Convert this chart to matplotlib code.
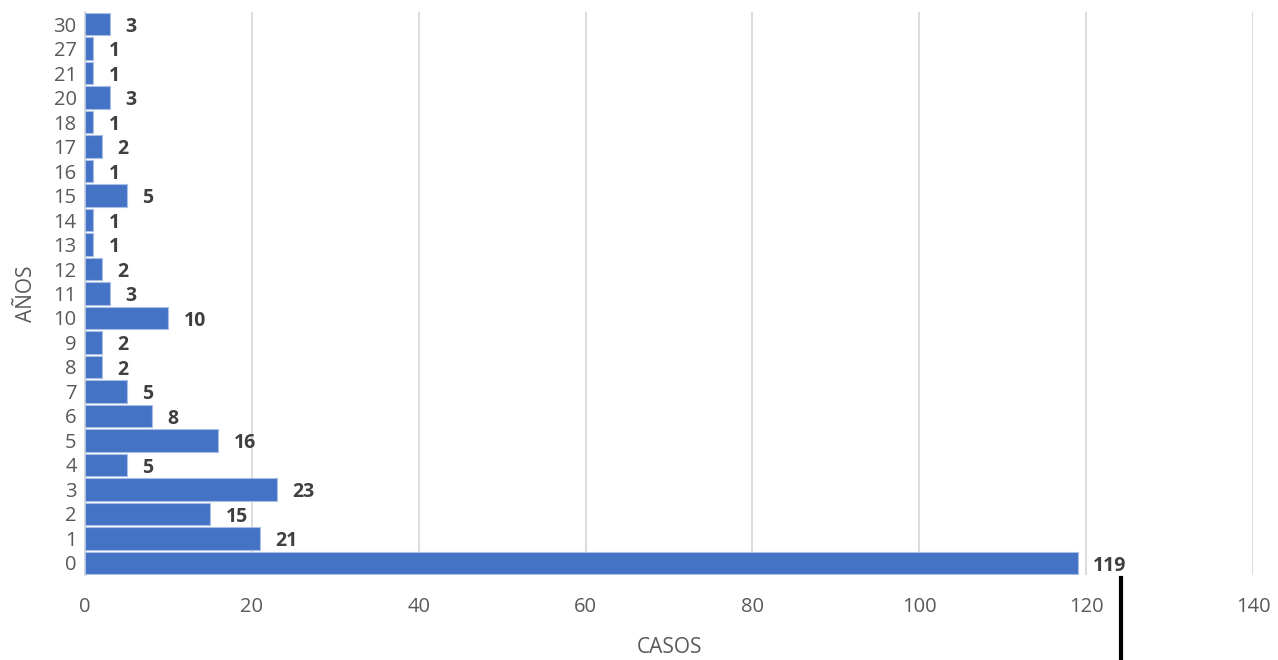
import matplotlib
matplotlib.use('Agg')
import matplotlib.pyplot as plt

anios = ['0', '1', '2', '3', '4', '5', '6', '7', '8', '9', '10', '11', '12',
         '13', '14', '15', '16', '17', '18', '20', '21', '27', '30']
casos = [119, 21, 15, 23, 5, 16, 8, 5, 2, 2, 10, 3, 2, 1, 1, 5, 1, 2, 1, 3, 1, 1, 3]

plt.rcParams['font.family'] = ['Open Sans', 'DejaVu Sans']

fig = plt.figure(figsize=(12.78, 6.6), dpi=100)
ax = fig.add_axes([85 / 1278, 85 / 660, 1168 / 1278, 563 / 660])

pos = list(range(len(anios)))
bars = ax.barh(pos, casos, height=0.92, color='#4472C4', edgecolor='#A9BEE6', linewidth=0.8, zorder=3)

for p, v in zip(pos, casos):
    ax.annotate(str(v), (v, p), xytext=(11, -2), textcoords='offset points',
                ha='left', va='center', fontsize=14, fontweight='bold', color='#404040')

ax.set_xlim(0, 140)
ax.set_ylim(-0.5, len(anios) - 0.5)
ax.set_xticks(range(0, 141, 20))
ax.set_yticks(pos)
ax.set_yticklabels(anios)
ax.tick_params(length=0, labelsize=14.5, colors='#595959')
ax.tick_params(axis='x', pad=16)
ax.tick_params(axis='y', pad=6)
ax.grid(axis='x', color='#D9D9D9', linewidth=1.3, zorder=0)
for s in ['top', 'right', 'bottom']:
    ax.spines[s].set_visible(False)
ax.spines['left'].set_color('#D9D9D9')
ax.spines['left'].set_linewidth(1.3)

ax.set_xlabel('CASOS', fontsize=15, color='#595959', labelpad=14)
ax.set_ylabel('AÑOS', fontsize=15, color='#595959', labelpad=12)

# linea negra suelta que aparece en la imagen
fig.add_artist(plt.Line2D([1121 / 1278, 1121 / 1278], [0, 82 / 660], color='black', linewidth=3))

fig.savefig('out.png', dpi=100)
